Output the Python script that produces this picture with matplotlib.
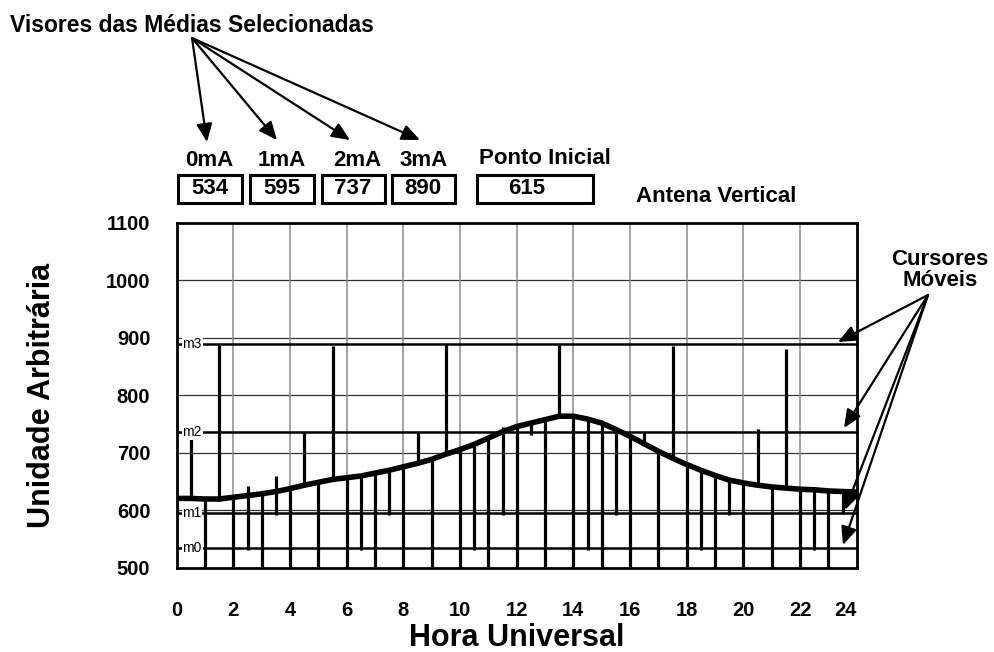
import matplotlib
matplotlib.use("Agg")
import matplotlib.pyplot as plt
from matplotlib.patches import Rectangle, FancyArrowPatch

plt.rcParams['font.family'] = ['Liberation Sans', 'DejaVu Sans']

# ---------------- data ----------------
curve_hours = [0, 0.5, 1, 1.5, 2, 2.5, 3, 3.5, 4, 4.5, 5, 5.5, 6, 6.5, 7, 7.5,
               8, 8.5, 9, 9.5, 10, 10.5, 11, 11.5, 12, 12.5, 13, 13.5, 14, 14.5,
               15, 15.5, 16, 16.5, 17, 17.5, 18, 18.5, 19, 19.5, 20, 20.5, 21,
               21.5, 22, 22.5, 23, 23.5, 24]
curve_values = [621, 621, 620, 620, 623, 626, 629, 633, 638, 644, 649, 654, 657,
                660, 665, 670, 676, 682, 689, 698, 706, 715, 726, 737, 746, 752,
                758, 764, 764, 759, 752, 741, 729, 716, 703, 691, 680, 670, 661,
                653, 648, 644, 641, 639, 637, 636, 634, 633, 632]

# calibration spikes (half-hour marks): lower and upper end of each spike
spike_hours = [0.5, 1.5, 2.5, 3.5, 4.5, 5.5, 6.5, 7.5, 8.5, 9.5, 10.5, 11.5,
               12.5, 13.5, 14.5, 15.5, 16.5, 17.5, 18.5, 19.5, 20.5, 21.5, 22.5, 23.5]
spike_low = [618, 617, 531, 592, 644, 654, 531, 592, 682, 698, 531, 592,
             731, 764, 531, 592, 716, 691, 531, 592, 644, 639, 531, 594]
spike_high = [727, 888, 643, 660, 737, 886, 660, 670, 737, 889, 715, 746,
              752, 888, 759, 741, 737, 886, 670, 653, 742, 881, 641, 633]

# hourly drops (go off-scale below the axis)
drop_hours = list(range(1, 24))
drop_bottom = 470

# cursors / displays
cursor_names = ['m0', 'm1', 'm2', 'm3']
cursor_values = [534, 595, 737, 890]
display_labels = ['0mA', '1mA', '2mA', '3mA']
start_label = 'Ponto Inicial'
start_value = 615

x_ticks = [0, 2, 4, 6, 8, 10, 12, 14, 16, 18, 20, 22, 24]
y_ticks = [500, 600, 700, 800, 900, 1000, 1100]

# ---------------- figure ----------------
W, H = 994, 652
fig = plt.figure(figsize=(W / 100, H / 100), dpi=100)


def fx(x):
    return x / W


def fy(y):
    return 1 - y / H


ax = fig.add_axes([fx(176.7), fy(568), 680 / W, 345 / H])
ax.set_xlim(0, 24)
ax.set_ylim(500, 1100)

# grid
for v in y_ticks[1:-1]:
    ax.axhline(v, color='#303030', lw=0.9, zorder=1)
for h in x_ticks[1:-1]:
    ax.axvline(h, color='#8a8a8a', lw=1.1, zorder=1)

# cursors
for name, v in zip(cursor_names, cursor_values):
    ax.axhline(v, color='black', lw=1.8, zorder=2)
    ax.text(0.2, v, name, fontsize=10, fontweight='normal', ha='left', va='center',
            zorder=6, bbox=dict(facecolor='white', edgecolor='none', pad=0.6))

# hourly drops
curve_lookup = dict(zip(curve_hours, curve_values))
drop_tops = [curve_lookup[h] for h in drop_hours]
ax.vlines(drop_hours, drop_bottom, drop_tops, color='black', lw=2.3, zorder=3)

# spikes
ax.vlines(spike_hours, spike_low, spike_high, color='black', lw=2.3, zorder=3)

# curve
ax.plot(curve_hours, curve_values, color='black', lw=4.0, zorder=4,
        solid_joinstyle='round')

# axes styling
for s in ax.spines.values():
    s.set_linewidth(2.0)
ax.set_xticks(x_ticks)
ax.set_yticks(y_ticks)
ax.tick_params(axis='both', length=0, labelsize=14.5)
ax.tick_params(axis='x', pad=24)
ax.tick_params(axis='y', pad=19)
for lab in ax.get_xticklabels() + ax.get_yticklabels():
    lab.set_fontweight('bold')
ax.get_xticklabels()[-1].set_horizontalalignment('right')

ax.set_xlabel('Hora Universal', fontsize=22, fontweight='bold')
ax.xaxis.set_label_coords(0.5, -0.16)
ax.set_ylabel('Unidade Arbitrária', fontsize=22, fontweight='bold')
ax.yaxis.set_label_coords(-0.176, 0.5)

# ---------------- annotations ----------------
fig.text(fx(10), fy(25), 'Visores das Médias Selecionadas', fontsize=16.5,
         fontweight='bold', ha='left', va='center')

arrow_kw = dict(transform=fig.transFigure,
                arrowstyle='-|>,head_length=0.55,head_width=0.24',
                mutation_scale=20, color='black', lw=1.6, shrinkA=0, shrinkB=0)

label_x = [209, 282, 357, 424]
box_left = [178, 250, 322, 392]
box_right = [242, 314, 385, 455]
value_x = [210, 282, 353, 423]
arrow_tip = [(207, 142), (277, 140), (350, 140), (420, 140)]
for lab, v, lx, bl, br, vx, tip in zip(display_labels, cursor_values, label_x,
                                       box_left, box_right, value_x, arrow_tip):
    fig.text(fx(lx), fy(161), lab, fontsize=16, fontweight='bold',
             ha='center', va='center')
    fig.add_artist(Rectangle((fx(bl), fy(203)), (br - bl) / W, 28 / H,
                             transform=fig.transFigure, fill=False,
                             edgecolor='black', lw=2.2))
    fig.text(fx(vx), fy(189), str(v), fontsize=16, fontweight='bold',
             ha='center', va='center')
    fig.add_artist(FancyArrowPatch((fx(192), fy(38)), (fx(tip[0]), fy(tip[1])),
                                   **arrow_kw))

fig.text(fx(545), fy(159), start_label, fontsize=16, fontweight='bold',
         ha='center', va='center')
fig.add_artist(Rectangle((fx(477), fy(203)), (593 - 477) / W, 28 / H,
                         transform=fig.transFigure, fill=False,
                         edgecolor='black', lw=2.2))
fig.text(fx(527), fy(189), str(start_value), fontsize=16, fontweight='bold',
         ha='center', va='center')

fig.text(fx(716), fy(196), 'Antena Vertical', fontsize=16, fontweight='bold',
         ha='center', va='center')

fig.text(fx(940), fy(270), 'Cursores\nMóveis', fontsize=16, fontweight='bold',
         ha='center', va='center', multialignment='center', linespacing=1.0)

for tip in [(838, 342), (844, 428), (845, 510), (843, 545)]:
    fig.add_artist(FancyArrowPatch((fx(928), fy(295)), (fx(tip[0]), fy(tip[1])),
                                   **arrow_kw))

fig.savefig('out.png', dpi=100)
